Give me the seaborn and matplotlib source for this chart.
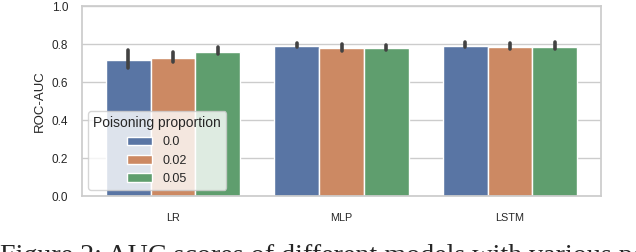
import numpy as np
import pandas as pd
import matplotlib
matplotlib.use("Agg")
import matplotlib.pyplot as plt
import seaborn as sns

# valeurs
models = ["LR", "MLP", "LSTM"]
proportions = ["0.0", "0.02", "0.05"]
auc_mean = {
    "0.0":  [0.716, 0.789, 0.789],
    "0.02": [0.726, 0.779, 0.784],
    "0.05": [0.758, 0.779, 0.784],
}
auc_low = {
    "0.0":  [0.674, 0.782, 0.784],
    "0.02": [0.707, 0.766, 0.775],
    "0.05": [0.749, 0.769, 0.774],
}
auc_high = {
    "0.0":  [0.768, 0.805, 0.810],
    "0.02": [0.760, 0.802, 0.805],
    "0.05": [0.784, 0.797, 0.810],
}

rows = []
for p in proportions:
    for i, m in enumerate(models):
        rows.append({"Model": m, "Poisoning proportion": p, "ROC-AUC": auc_mean[p][i]})
df = pd.DataFrame(rows)

sns.set_theme(style="whitegrid")
plt.rcParams["font.family"] = ["Liberation Sans", "DejaVu Sans"]

fig, ax = plt.subplots(figsize=(6.36, 2.52), dpi=100)
fig.subplots_adjust(left=0.129, right=0.945, top=0.976, bottom=0.222)

sns.barplot(data=df, x="Model", y="ROC-AUC", hue="Poisoning proportion",
            order=models, hue_order=proportions, errorbar=None, ax=ax)

# barres d'erreur aux centres des barres
for p, container in zip(proportions, ax.containers):
    for i, patch in enumerate(container.patches):
        xc = patch.get_x() + patch.get_width() / 2
        ax.plot([xc, xc], [auc_low[p][i], auc_high[p][i]], color=".26",
                linewidth=2.6, solid_capstyle="round", zorder=3)

ax.set_ylim(0, 1.0)
ax.set_xlabel("")
ax.set_ylabel("ROC-AUC", fontsize=9.5)
ax.tick_params(axis="y", labelsize=8.5, pad=4)
ax.tick_params(axis="x", labelsize=7.8, pad=6)

leg = ax.legend(title="Poisoning proportion", loc="lower left",
                fontsize=9, title_fontsize=10)

# légende de la figure (coupée en bas dans l'image d'origine)
fig.text(0.0, -0.042, "Figure 2: AUC scores of different models with various poisoning proportions",
         family="Liberation Serif", fontsize=20.2, va="baseline", ha="left")

fig.savefig("out.png", dpi=100)
